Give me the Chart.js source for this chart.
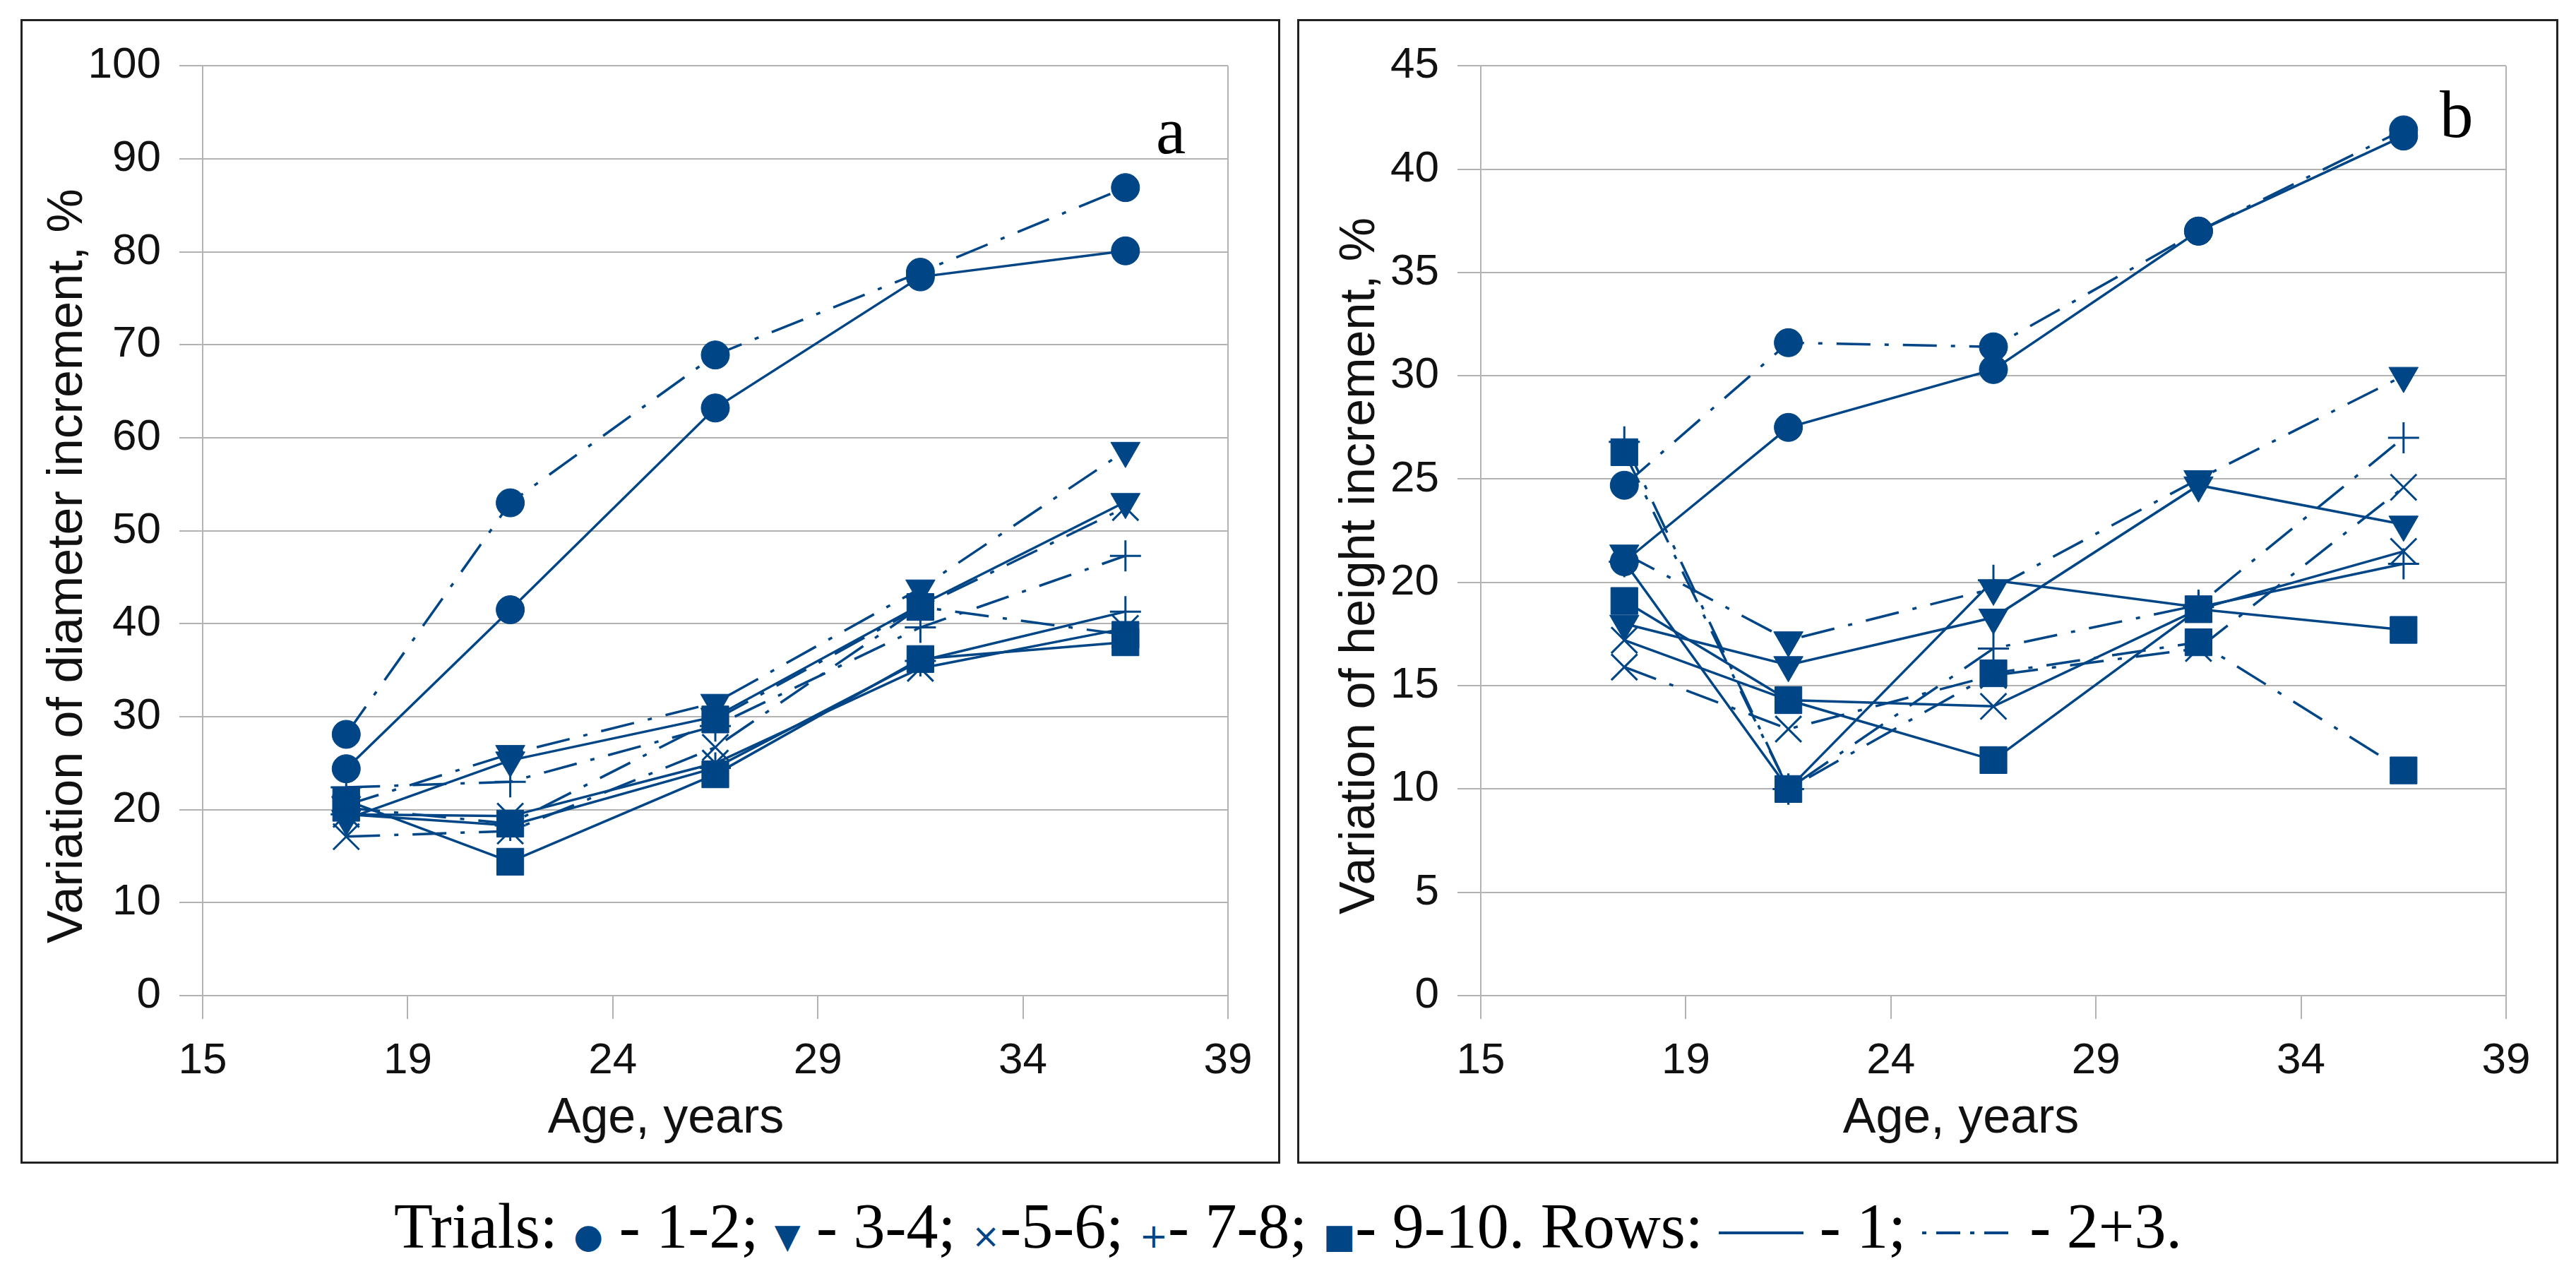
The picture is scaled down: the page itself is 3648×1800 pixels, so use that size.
<!DOCTYPE html>
<html>
<head>
<meta charset="utf-8">
<script src="https://cdn.jsdelivr.net/npm/chart.js@4.4.1/dist/chart.umd.min.js"></script>
<style>
  body { margin: 0; width: 3648px; height: 1800px; background: #fff; position: relative; overflow: hidden; }
  .painel { position: absolute; box-sizing: border-box; border: 3px solid #222; top: 27px; height: 1621px; }
  #painelA { left: 29px; width: 1784px; }
  #painelB { left: 1837px; width: 1786px; }
  .painel canvas { display: block; }
  .letra { position: absolute; font-family: "Liberation Serif", serif; font-size: 95px; line-height: 95px; color: #000; }
  #legenda { position: absolute; left: 0; width: 3648px; top: 1692px; text-align: center; white-space: nowrap;
             font-family: "Liberation Serif", serif; font-size: 90px; line-height: 90px; color: #000; }
  .mk { font-family: "DejaVu Sans", sans-serif; font-size: 48px; color: #004586; }
  #legenda svg { vertical-align: middle; }
</style>
</head>
<body>
<div class="painel" id="painelA"><canvas id="graficoDiametro" width="1778" height="1615"></canvas></div>
<div class="painel" id="painelB"><canvas id="graficoAltura" width="1780" height="1615"></canvas></div>
<div class="letra" style="left:1637px;top:138px">a</div>
<div class="letra" style="left:3455px;top:115px">b</div>
<div id="legenda">Trials: <span class="mk">●</span> - 1-2; <span class="mk">▼</span> - 3-4; <span class="mk">×</span>-5-6; <span class="mk">+</span>- 7-8; <span class="mk">■</span>- 9-10. Rows: <svg width="120" height="20"><line x1="0" y1="10" x2="120" y2="10" stroke="#004586" stroke-width="4"/></svg> - 1; <svg width="130" height="20"><line x1="0" y1="10" x2="130" y2="10" stroke="#004586" stroke-width="4" stroke-dasharray="6 14 34 14"/></svg> - 2+3.</div>

<script>
const idades = [17.5, 21.5, 26.5, 31.5, 36.5];
const ticksX = [14, 19, 24, 29, 34, 39];
const rotulosX = ["15", "19", "24", "29", "34", "39"];

// diametro: fila 1 (linha cheia) e filas 2+3 (traco-ponto)
const diam12Fila1 = [24.4, 41.5, 63.2, 77.3, 80.1];
const diam12Fila23 = [28.1, 53.0, 68.9, 77.8, 86.9];
const diam34Fila1 = [19.0, 25.3, 30.0, 42.0, 53.1];
const diam34Fila23 = [20.5, 26.0, 31.5, 43.8, 58.6];
const diam56Fila1 = [19.5, 19.3, 25.0, 35.2, 39.5];
const diam56Fila23 = [17.1, 17.7, 26.7, 41.8, 52.5];
const diam78Fila1 = [19.5, 18.3, 24.5, 36.0, 41.3];
const diam78Fila23 = [22.4, 23.0, 29.0, 39.6, 47.3];
const diam910Fila1 = [21.0, 14.4, 23.8, 36.2, 38.0];
const diam910Fila23 = [20.2, 18.5, 29.7, 41.8, 38.8];

// altura
const alt12Fila1 = [21.0, 27.5, 30.3, 37.0, 41.6];
const alt12Fila23 = [24.7, 31.6, 31.4, 37.0, 41.9];
const alt34Fila1 = [18.0, 16.0, 18.3, 24.7, 22.8];
const alt34Fila23 = [21.4, 17.2, 19.7, 25.0, 30.0];
const alt56Fila1 = [17.2, 14.3, 14.0, 18.7, 21.5];
const alt56Fila23 = [15.9, 12.9, 15.5, 16.8, 24.6];
const alt78Fila1 = [21.0, 10.0, 20.1, 18.8, 20.9];
const alt78Fila23 = [26.8, 10.0, 16.8, 18.9, 27.0];
const alt910Fila1 = [19.1, 14.3, 11.4, 18.7, 17.7];
const alt910Fila23 = [26.3, 10.0, 15.6, 17.1, 10.9];

const azul = "#004586";
const cinza = "#b3b3b3";
const tracoPonto = [48, 20, 6, 20];

const marcadores = [
  { pointStyle: "circle", radius: 20, rotation: 0, borda: 1 },
  { pointStyle: "triangle", radius: 24, rotation: 180, borda: 1 },
  { pointStyle: "crossRot", radius: 26, rotation: 0, borda: 3 },
  { pointStyle: "cross", radius: 22, rotation: 0, borda: 3 },
  { pointStyle: "rect", radius: 27, rotation: 0, borda: 1 },
];

function serie(valores, marcador, tracejado) {
  return {
    data: valores.map((v, i) => ({ x: idades[i], y: v })),
    borderColor: azul,
    backgroundColor: azul,
    borderWidth: 3.5,
    borderDash: tracejado ? tracoPonto : [],
    pointStyle: marcador.pointStyle,
    pointRadius: marcador.radius,
    pointRotation: marcador.rotation,
    pointBorderWidth: marcador.borda,
    pointBackgroundColor: azul,
    pointBorderColor: azul,
    showLine: true,
    fill: false,
    tension: 0,
  };
}

function montarSeries(fila1, fila23) {
  const lista = [];
  fila1.forEach((valores, i) => {
    lista.push(serie(valores, marcadores[i], false));
    lista.push(serie(fila23[i], marcadores[i], true));
  });
  return lista;
}

// titulos dos eixos: no original nao ficam centrados na area do grafico
const titulosEixos = {
  id: "titulosEixos",
  afterDraw(chart, args, opts) {
    const { ctx, chartArea } = chart;
    ctx.save();
    ctx.font = "70px 'Liberation Sans'";
    ctx.fillStyle = "#111";
    ctx.textAlign = "center";
    ctx.textBaseline = "middle";
    ctx.fillText(opts.textoX, (chartArea.left + chartArea.right) / 2 + opts.deslocaX, opts.yTituloX);
    ctx.translate(opts.xTituloY, (chartArea.top + chartArea.bottom) / 2 + opts.deslocaY);
    ctx.rotate(-Math.PI / 2);
    ctx.fillText(opts.textoY, 0, 0);
    ctx.restore();
  },
};

function opcoes(tituloY, maxY, passoY, larguraY, xTituloY, deslocaX) {
  const fonteTick = { family: "Liberation Sans", size: 62 };
  return {
    responsive: false,
    animation: false,
    devicePixelRatio: 1,
    layout: { padding: { top: 63, right: 71, left: 0, bottom: 0 } },
    plugins: {
      legend: { display: false },
      tooltip: { enabled: false },
      titulosEixos: {
        textoX: "Age, years", deslocaX: deslocaX, yTituloX: 1555,
        textoY: tituloY, xTituloY: xTituloY, deslocaY: 50,
      },
    },
    scales: {
      x: {
        type: "linear",
        min: ticksX[0],
        max: ticksX[ticksX.length - 1],
        ticks: {
          stepSize: 5,
          font: fonteTick,
          color: "#111",
          padding: 23,
          maxRotation: 0,
          callback: (v) => rotulosX[ticksX.indexOf(v)],
        },
        grid: {
          color: (c) => (c.tick && c.tick.value === 39 ? cinza : "transparent"),
          tickColor: cinza,
          tickLength: 33,
          lineWidth: 2,
        },
        border: { color: cinza, width: 2 },
        afterFit: (s) => { s.height = 235; },
      },
      y: {
        min: 0,
        max: maxY,
        ticks: { stepSize: passoY, font: fonteTick, color: "#111", padding: 26 },
        grid: { color: cinza, lineWidth: 2, tickLength: 33 },
        border: { color: cinza, width: 2 },
        afterFit: (s) => { s.width = larguraY; },
      },
    },
  };
}

new Chart(document.getElementById("graficoDiametro"), {
  type: "scatter",
  data: {
    datasets: montarSeries(
      [diam12Fila1, diam34Fila1, diam56Fila1, diam78Fila1, diam910Fila1],
      [diam12Fila23, diam34Fila23, diam56Fila23, diam78Fila23, diam910Fila23]
    ),
  },
  options: opcoes("Variation of diameter increment, %", 100, 10, 255, 65, -70),
  plugins: [titulosEixos],
});

new Chart(document.getElementById("graficoAltura"), {
  type: "scatter",
  data: {
    datasets: montarSeries(
      [alt12Fila1, alt34Fila1, alt56Fila1, alt78Fila1, alt910Fila1],
      [alt12Fila23, alt34Fila23, alt56Fila23, alt78Fila23, alt910Fila23]
    ),
  },
  options: opcoes("Variation of height increment, %", 45, 5, 257, 87, -46),
  plugins: [titulosEixos],
});
</script>
</body>
</html>
